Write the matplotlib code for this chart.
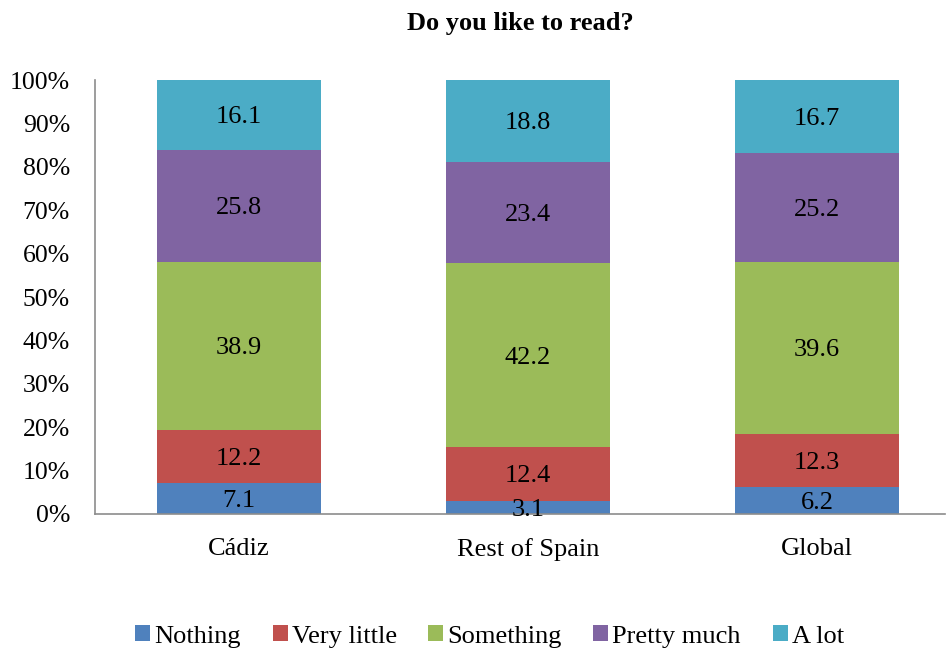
import matplotlib.pyplot as plt
import numpy as np

plt.rcParams['font.family'] = ['Liberation Serif', 'DejaVu Serif']

# survey answers (%) per group
groups = ["Cádiz", "Rest of Spain", "Global"]
answers = ["Nothing", "Very little", "Something", "Pretty much", "A lot"]
nothing = [7.1, 3.1, 6.2]
very_little = [12.2, 12.4, 12.3]
something = [38.9, 42.2, 39.6]
pretty_much = [25.8, 23.4, 25.2]
a_lot = [16.1, 18.8, 16.7]

colors = ["#4F81BD", "#C0504D", "#9BBB59", "#8064A2", "#4BACC6"]

series = np.array([nothing, very_little, something, pretty_much, a_lot])
# stack as share of 100%
shares = series / series.sum(axis=0) * 100

fig = plt.figure(figsize=(9.47, 6.48), dpi=100)
ax = fig.add_axes([0.1003, 0.2068, 0.8976, 0.6697])

x = np.arange(len(groups))
bottom = np.zeros(len(groups))
for name, vals, share, col in zip(answers, series, shares, colors):
    ax.bar(x, share, 0.567, bottom=bottom, color=col, label=name)
    for xi, b, s, v in zip(x, bottom, share, vals):
        ax.text(xi, b + s / 2, f"{v:.1f}", ha="center", va="center_baseline",
                fontsize=19)
    bottom += share

ax.set_xlim(-0.498, 2.443)
ax.set_ylim(0, 100)
ax.set_yticks(np.arange(0, 101, 10))
ax.set_yticklabels([f"{t}%" for t in range(0, 101, 10)], fontsize=18.5)
ax.set_xticks(x)
ax.set_xticklabels(groups, fontsize=19)
ax.tick_params(length=0)
ax.tick_params(axis="x", pad=17)
ax.tick_params(axis="y", pad=18)
ax.spines[["top", "right"]].set_visible(False)
for s in ["left", "bottom"]:
    ax.spines[s].set_color("#8C8C8C")
    ax.spines[s].set_linewidth(1.2)

fig.text(0.549, 0.963, "Do you like to read?", ha="center", va="center",
         fontsize=19, fontweight="bold")

fig.legend(loc="center", bbox_to_anchor=(0.517, 0.018), ncol=5, frameon=False,
           fontsize=19, handlelength=0.57, handleheight=0.57, handletextpad=0.15,
           columnspacing=1.2)

fig.savefig("out.png", dpi=100)
